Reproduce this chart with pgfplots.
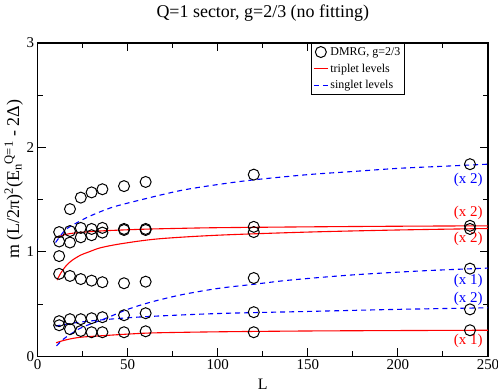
\documentclass[border=0pt]{standalone}
\usepackage{fontspec}
\setmainfont{Liberation Serif}
\usepackage{amsmath}
\usepackage{pgfplots}
\pgfplotsset{compat=1.18}
\pgfplotsset{
    markleg/.style={legend image code/.code={\draw[mark repeat=2,mark phase=2,##1] plot coordinates {(0bp,0bp) (7bp,0bp) (14bp,0bp)};}},
    lineleg/.style={legend image code/.code={\draw[##1] (0bp,0bp) -- (14bp,0bp);}},
}
\begin{document}
\begin{tikzpicture}
\begin{axis}[
    name=ax,
    scale only axis,
    width=450bp, height=313bp,
    xmin=0, xmax=250, ymin=0, ymax=3,
    xtick={0,50,100,150,200,250},
    ytick={0,1,2,3},
    minor x tick num=1, minor y tick num=1,
    tick align=inside,
    major tick length=8bp, minor tick length=5bp,
    every tick/.style={black, line width=0.9bp},
    axis line style={line width=1.2bp},
    tick label style={font=\fontsize{15}{15}\selectfont},
    /pgf/number format/assume math mode=true,
    title={Q=1 sector, g=2/3 (no fitting)},
    title style={at={(0.5,1.083)}, anchor=base, yshift=-6pt, font=\fontsize{18}{18}\selectfont},
    xlabel={L},
    xlabel style={at={(0.5,-0.105)}, anchor=base, font=\fontsize{16}{16}\selectfont},
    ylabel={m (L/2π)$^{\text{2}}$(E$_{\text{n}}$$^{\text{Q=1}}$ - 2Δ)},
    every axis y label/.style={at={(-0.053,0.565)}, rotate=90, anchor=center, font=\fontsize{18}{18}\selectfont},
    legend style={at={(0.711,1)}, anchor=north, draw=black, line width=0.6bp,
        font=\fontsize{12}{13}\selectfont, inner sep=2pt, row sep=3pt, fill=white},
    legend cell align=left,
    lineleg,
]
% DMRG levels
\addplot[only marks, mark=o, mark size=5.5bp, black, mark options={line width=1bp}, markleg]
coordinates {
    (12,0.96) (12,1.19) (12,1.10) (12,0.79) (12,0.337) (12,0.298)
    (18,1.41) (18,1.20) (18,1.09) (18,0.77) (18,0.356) (18,0.26)
    (24,1.52) (24,1.23) (24,1.14) (24,0.74) (24,0.356) (24,0.243)
    (30,1.57) (30,1.22) (30,1.16) (30,0.725) (30,0.365) (30,0.231)
    (36,1.60) (36,1.23) (36,1.185) (36,0.71) (36,0.375) (36,0.231)
    (48,1.63) (48,1.22) (48,1.21) (48,0.70) (48,0.394) (48,0.231)
    (60,1.67) (60,1.22) (60,1.21) (60,0.715) (60,0.413) (60,0.24)
    (120,1.74) (120,1.24) (120,1.19) (120,0.75) (120,0.423) (120,0.231)
    (240,1.84) (240,1.25) (240,1.22) (240,0.84) (240,0.45) (240,0.25)
};
\addlegendentry{DMRG, g=2/3}
% triplet levels
\addplot[red, line width=1.1bp, smooth] coordinates {
    (10.5,1.14) (15,1.165) (20,1.18) (30,1.195) (40,1.205) (60,1.218)
    (80,1.226) (100,1.232) (150,1.24) (200,1.246) (250,1.25)
};
\addlegendentry{triplet levels}
% singlet levels
\addplot[blue, line width=1.1bp, dash pattern=on 5bp off 4bp, smooth] coordinates {
    (10,1.09) (13,1.16) (16,1.22) (23,1.29) (30,1.35) (42,1.43) (60,1.51)
    (80,1.59) (100,1.645) (120,1.69) (150,1.74) (175,1.77) (200,1.80)
    (225,1.82) (250,1.84)
};
\addlegendentry{singlet levels}
\addplot[red, line width=1.1bp, smooth, forget plot] coordinates {
    (10.8,0.73) (13,0.80) (16,0.87) (19.2,0.92) (24,0.97) (28.5,1.0)
    (35,1.04) (47,1.08) (67,1.125) (100,1.16) (150,1.19) (200,1.21) (250,1.224)
};
\addplot[red, line width=1.1bp, smooth, forget plot] coordinates {
    (10.3,0.13) (14,0.15) (19,0.17) (25,0.185) (38,0.20) (50,0.213)
    (65,0.225) (100,0.235) (150,0.243) (200,0.247) (250,0.25)
};
\addplot[blue, line width=1.1bp, dash pattern=on 5bp off 4bp, smooth, forget plot] coordinates {
    (10.5,0.10) (14,0.16) (19,0.22) (25,0.28) (38,0.365) (50,0.45) (63,0.52)
    (80,0.59) (100,0.65) (120,0.69) (140,0.73) (175,0.78) (215,0.82) (250,0.845)
};
\addplot[blue, line width=1.1bp, dash pattern=on 5bp off 4bp, smooth, forget plot] coordinates {
    (10,0.29) (15,0.305) (20,0.32) (36,0.35) (60,0.38) (100,0.41)
    (150,0.43) (200,0.45) (250,0.465)
};
\node[text=blue, font=\fontsize{15}{15}\selectfont] at (axis cs:239,1.69) {(x 2)};
\node[text=red, font=\fontsize{15}{15}\selectfont] at (axis cs:239,1.375) {(x 2)};
\node[text=red, font=\fontsize{15}{15}\selectfont] at (axis cs:239,1.125) {(x 2)};
\node[text=blue, font=\fontsize{15}{15}\selectfont] at (axis cs:239,0.72) {(x 1)};
\node[text=blue, font=\fontsize{15}{15}\selectfont] at (axis cs:239,0.55) {(x 2)};
\node[text=red, font=\fontsize{15}{15}\selectfont] at (axis cs:239,0.145) {(x 1)};
\end{axis}
\pgfresetboundingbox
\path ([xshift=-37.5bp,yshift=-35bp]ax.south west) rectangle ([xshift=10bp,yshift=43bp]ax.north east);
\end{tikzpicture}
\end{document}
